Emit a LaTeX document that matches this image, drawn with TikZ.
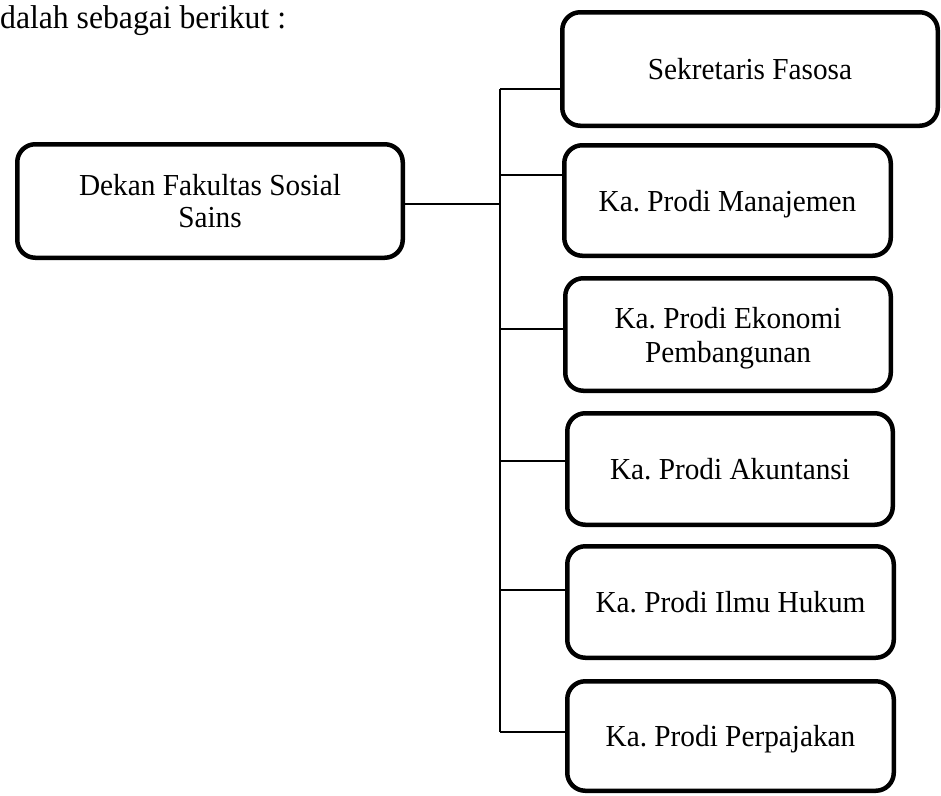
\documentclass[tikz,border=0pt]{standalone}
\usepackage{fontspec}
\setmainfont{Liberation Serif}[FakeStretch=0.96]
\frenchspacing
\begin{document}
\begin{tikzpicture}[x=1pt,y=-1pt,
  orgbox/.style={draw=black, line width=4.5pt, rounded corners=18pt, fill=white,
    align=center, inner sep=0pt, text depth=0pt,
    font=\fontsize{30.5}{32}\selectfont},
  link/.style={draw=black, line width=1.6pt}]
\useasboundingbox (0,0) rectangle (941,795);
\node[anchor=base west, inner sep=0pt, font=\fontsize{33}{38}\selectfont] (intro) at (0,28.5) {dalah sebagai berikut :};
\node[orgbox, minimum width=385.5pt, minimum height=113.5pt] (dek) at (210,201) {Dekan Fakultas Sosial\\Sains};
\node[orgbox, minimum width=375.5pt, minimum height=113.5pt] (sek) at (750,69) {Sekretaris Fasosa};
\node[orgbox, minimum width=326.5pt, minimum height=110.5pt] (man) at (727.5,200.5) {Ka. Prodi Manajemen};
\node[orgbox, minimum width=325.5pt, minimum height=112.5pt] (eko) at (728,334.5) {Ka. Prodi Ekonomi\\[2pt]Pembangunan};
\node[orgbox, minimum width=325.5pt, minimum height=111.5pt] (aku) at (730,469) {Ka. Prodi Akuntansi};
\node[orgbox, minimum width=326.5pt, minimum height=111.5pt] (ilm) at (730.5,602) {Ka. Prodi Ilmu Hukum};
\node[orgbox, minimum width=326.5pt, minimum height=109.5pt] (per) at (730.5,736) {Ka. Prodi Perpajakan};
\coordinate (j0) at (500,204);
\coordinate (j1) at (500,89);
\coordinate (j2) at (500,175);
\coordinate (j3) at (500,329);
\coordinate (j4) at (500,461);
\coordinate (j5) at (500,590);
\coordinate (j6) at (500,732);
\draw[link] (dek.east |- j0) -- (j0);
\draw[link] (j1) -- (j6);
\draw[link] (j1) -- (j1 -| sek.west);
\draw[link] (j2) -- (j2 -| man.west);
\draw[link] (j3) -- (j3 -| eko.west);
\draw[link] (j4) -- (j4 -| aku.west);
\draw[link] (j5) -- (j5 -| ilm.west);
\draw[link] (j6) -- (j6 -| per.west);
\end{tikzpicture}
\end{document}
